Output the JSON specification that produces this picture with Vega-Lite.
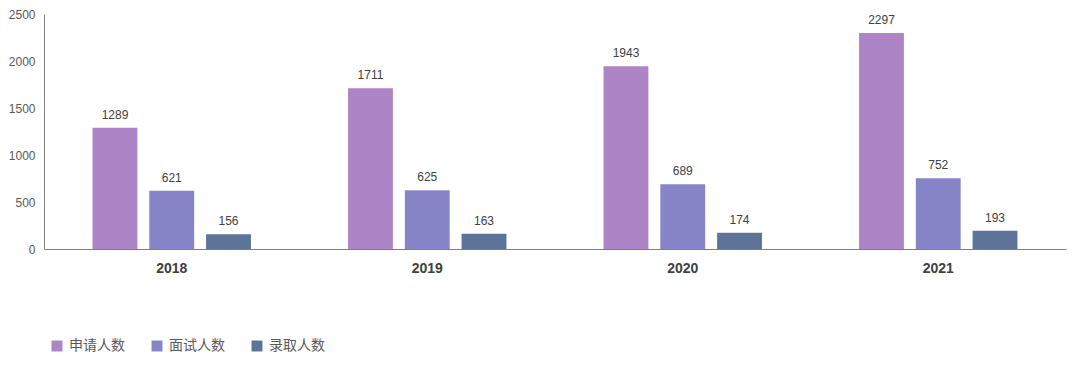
{
  "$schema": "https://vega.github.io/schema/vega-lite/v6.json",
  "width": 1022,
  "height": 235,
  "autosize": {"type": "none"},
  "padding": {"left": 44, "top": 14, "right": 14, "bottom": 121},
  "background": "white",
  "config": {
    "view": {"stroke": null},
    "font": "Liberation Sans"
  },
  "data": {
    "values": [
      {"year": "2018", "type": "申请人数", "value": 1289},
      {"year": "2018", "type": "面试人数", "value": 621},
      {"year": "2018", "type": "录取人数", "value": 156},
      {"year": "2019", "type": "申请人数", "value": 1711},
      {"year": "2019", "type": "面试人数", "value": 625},
      {"year": "2019", "type": "录取人数", "value": 163},
      {"year": "2020", "type": "申请人数", "value": 1943},
      {"year": "2020", "type": "面试人数", "value": 689},
      {"year": "2020", "type": "录取人数", "value": 174},
      {"year": "2021", "type": "申请人数", "value": 2297},
      {"year": "2021", "type": "面试人数", "value": 752},
      {"year": "2021", "type": "录取人数", "value": 193}
    ]
  },
  "encoding": {
    "x": {
      "field": "year", "type": "nominal",
      "scale": {"paddingInner": 0.38, "paddingOuter": 0.19},
      "axis": {
        "title": null, "labelAngle": 0, "ticks": false,
        "domainColor": "#7f7f7f", "labelFontSize": 14, "labelFontWeight": "bold",
        "labelColor": "#404040", "labelPadding": 12
      }
    },
    "xOffset": {
      "field": "type", "type": "nominal",
      "sort": ["申请人数", "面试人数", "录取人数"],
      "scale": {"paddingInner": 0.21, "paddingOuter": 0}
    },
    "y": {
      "field": "value", "type": "quantitative",
      "scale": {"domain": [0, 2500]},
      "axis": {
        "title": null, "values": [0, 500, 1000, 1500, 2000, 2500], "format": "d",
        "grid": false, "ticks": false, "domain": true, "domainColor": "#7f7f7f",
        "labelColor": "#595959", "labelFontSize": 12, "labelPadding": 9
      }
    }
  },
  "layer": [
    {
      "mark": {"type": "bar"},
      "encoding": {
        "color": {
          "field": "type", "type": "nominal",
          "sort": ["申请人数", "面试人数", "录取人数"],
          "scale": {"domain": ["申请人数", "面试人数", "录取人数"], "range": ["#AD84C6", "#8784C7", "#5D739A"]},
          "legend": {
            "title": null, "orient": "none", "direction": "horizontal",
            "legendX": 6, "legendY": 325,
            "symbolType": "square", "symbolSize": 120, "symbolStrokeWidth": 0,
            "labelFont": "Noto Sans CJK SC", "labelFontSize": 14, "labelColor": "#595959",
            "columnPadding": 25, "labelOffset": 5
          }
        }
      }
    },
    {
      "mark": {"type": "text", "baseline": "bottom", "dy": -6, "fontSize": 12, "color": "#404040"},
      "encoding": {
        "text": {"field": "value", "type": "quantitative"}
      }
    }
  ]
}
